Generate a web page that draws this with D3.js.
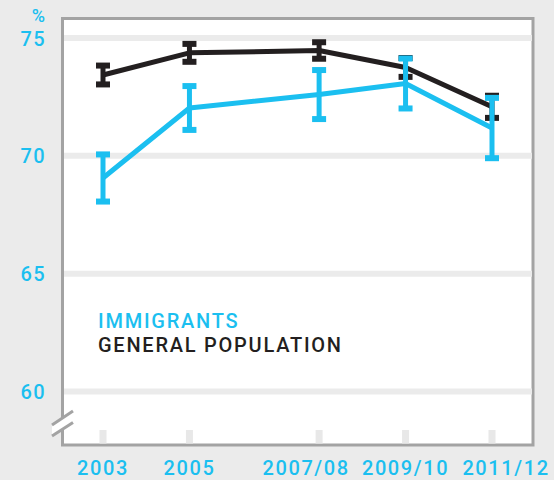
<!DOCTYPE html>
<html>
<head>
<meta charset="utf-8">
<script src="https://cdn.jsdelivr.net/npm/d3@7/dist/d3.min.js"></script>
<style>
  html, body { margin: 0; padding: 0; background: #ebebeb; }
  svg { display: block; }
  text { font-family: Roboto, "Open Sans", sans-serif; }
</style>
</head>
<body>
<svg id="chart" width="554" height="480"></svg>
<script>
// ---- data ----
const periods = ["2003", "2005", "2007/08", "2009/10", "2011/12"];
const periodYears = [2003, 2005, 2008, 2010, 2012];
const immigrants = [69.06, 72.03, 72.6, 73.07, 71.18];
const immigrantsErr = [1.0, 0.93, 1.04, 1.06, 1.28];
const general = [73.43, 74.37, 74.47, 73.75, 72.08];
const generalErr = [0.4, 0.38, 0.35, 0.4, 0.47];
const yTicks = [60, 65, 70, 75];
const yUnit = "%";
const legendLabels = ["IMMIGRANTS", "GENERAL POPULATION"];

const CYAN = "#1bbff0";
const BLACK = "#231f20";
const labelNudge = [0, 0, -13, 0, 14];

const svg = d3.select("#chart");

const x = d3.scaleLinear().domain([2003, 2012]).range([103, 492]);
const y = d3.scaleLinear().domain([60, 75]).range([391.5, 38]);

// plot frame
svg.append("rect")
  .attr("x", 62.5).attr("y", 18.5)
  .attr("width", 470.5).attr("height", 426.5)
  .attr("fill", "#fff")
  .attr("stroke", "#a3a3a3").attr("stroke-width", 3);

// gridlines
svg.append("g").selectAll("line").data(yTicks).join("line")
  .attr("x1", 64).attr("x2", 532)
  .attr("y1", d => y(d)).attr("y2", d => y(d))
  .attr("stroke", "#ebebeb").attr("stroke-width", 6);

// unit sign
svg.append("text")
  .attr("x", 45).attr("y", 22)
  .attr("text-anchor", "end")
  .attr("fill", CYAN)
  .attr("font-size", 18).attr("font-weight", 500)
  .text(yUnit);

// y labels
svg.append("g").selectAll("text").data(yTicks).join("text")
  .attr("x", 46).attr("y", d => y(d) + 7.5)
  .attr("text-anchor", "end")
  .attr("fill", CYAN)
  .attr("font-size", 20).attr("font-weight", 500)
  .attr("letter-spacing", 1.4)
  .text(d => d);

// x ticks
svg.append("g").selectAll("rect").data(periodYears).join("rect")
  .attr("x", d => x(d) - 3.5).attr("y", 430)
  .attr("width", 7).attr("height", 13.5)
  .attr("fill", "#e8e8e8");

// x labels
svg.append("g").selectAll("text").data(periods).join("text")
  .attr("x", (d, i) => x(periodYears[i]) + labelNudge[i])
  .attr("y", 475)
  .attr("text-anchor", "middle")
  .attr("fill", CYAN)
  .attr("font-size", 20).attr("font-weight", 500)
  .attr("letter-spacing", 1.6)
  .text(d => d);

// axis break
const brk = svg.append("g");
brk.append("polygon")
  .attr("points", "52,425 74,410 74,423 52,436")
  .attr("fill", "#fff");
[[52, 425, 73, 411], [52, 436, 73, 422.5]].forEach(s => {
  brk.append("line")
    .attr("x1", s[0]).attr("y1", s[1]).attr("x2", s[2]).attr("y2", s[3])
    .attr("stroke", "#a3a3a3").attr("stroke-width", 3);
});

// series
function drawSeries(vals, errs, color) {
  const g = svg.append("g");
  const pts = vals.map((v, i) => [x(periodYears[i]), y(v)]);
  g.append("path")
    .attr("d", d3.line()(pts))
    .attr("fill", "none")
    .attr("stroke", color).attr("stroke-width", 5)
    .attr("stroke-linejoin", "round");
  const eb = g.selectAll("g.eb").data(vals).join("g");
  eb.append("line")
    .attr("x1", (d, i) => x(periodYears[i])).attr("x2", (d, i) => x(periodYears[i]))
    .attr("y1", (d, i) => y(d + errs[i])).attr("y2", (d, i) => y(d - errs[i]))
    .attr("stroke", color).attr("stroke-width", 5);
  [1, -1].forEach(sgn => {
    eb.append("rect")
      .attr("x", (d, i) => x(periodYears[i]) - 7)
      .attr("y", (d, i) => y(d + sgn * errs[i]) - 3)
      .attr("width", 14).attr("height", 6)
      .attr("fill", color);
  });
}
drawSeries(general, generalErr, BLACK);
drawSeries(immigrants, immigrantsErr, CYAN);

// legend
svg.append("g").selectAll("text").data(legendLabels).join("text")
  .attr("x", 98).attr("y", (d, i) => 328 + i * 24)
  .attr("fill", (d, i) => i === 0 ? CYAN : BLACK)
  .attr("font-size", 20).attr("font-weight", 500)
  .attr("letter-spacing", 1.75)
  .text(d => d);
</script>
</body>
</html>
